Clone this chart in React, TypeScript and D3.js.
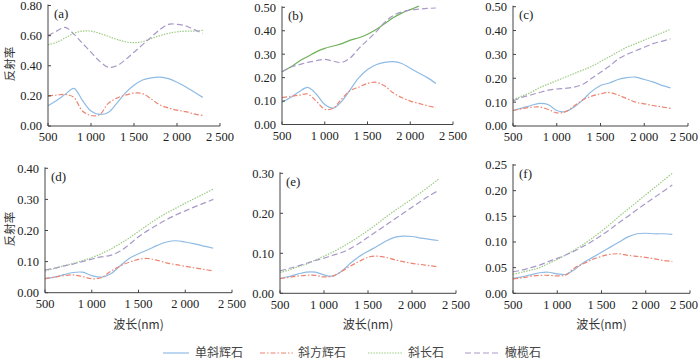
import React from "react";
import * as d3 from "d3";

// wavelength samples (nm)
const wavelengths = [500, 600, 700, 800, 900, 1000, 1100, 1200, 1300, 1400, 1500, 1600, 1700, 1800, 1900, 2000, 2100, 2200, 2300];

const mineralNames = ["单斜辉石", "斜方辉石", "斜长石", "橄榄石"];
const xTicks = [500, 1000, 1500, 2000, 2500];

// (a)
const cpxA = [0.135, 0.17, 0.21, 0.25, 0.17, 0.1, 0.077, 0.09, 0.15, 0.22, 0.27, 0.305, 0.32, 0.325, 0.315, 0.29, 0.26, 0.225, 0.19];
const opxA = [0.2, 0.205, 0.21, 0.19, 0.1, 0.07, 0.075, 0.15, 0.185, 0.205, 0.218, 0.215, 0.18, 0.14, 0.12, 0.105, 0.095, 0.08, 0.07];
const plA = [0.54, 0.555, 0.585, 0.615, 0.63, 0.63, 0.615, 0.595, 0.575, 0.56, 0.553, 0.56, 0.58, 0.6, 0.615, 0.625, 0.63, 0.63, 0.635];
const olA = [0.6, 0.63, 0.655, 0.61, 0.55, 0.49, 0.43, 0.39, 0.4, 0.44, 0.49, 0.54, 0.59, 0.64, 0.675, 0.675, 0.665, 0.64, 0.615];

// (b)
const cpxB = [0.095, 0.115, 0.14, 0.158, 0.13, 0.085, 0.07, 0.1, 0.15, 0.2, 0.235, 0.255, 0.265, 0.268, 0.26, 0.24, 0.22, 0.2, 0.175];
const opxB = [0.115, 0.12, 0.125, 0.13, 0.1, 0.065, 0.07, 0.11, 0.145, 0.16, 0.175, 0.18, 0.165, 0.135, 0.115, 0.1, 0.09, 0.08, 0.072];
const plB = [0.225, 0.245, 0.27, 0.29, 0.31, 0.325, 0.335, 0.345, 0.36, 0.37, 0.385, 0.405, 0.43, 0.455, 0.475, 0.49, 0.505, null, null];
const olB = [0.225, 0.245, 0.255, 0.265, 0.272, 0.278, 0.27, 0.265, 0.285, 0.325, 0.36, 0.395, 0.435, 0.465, 0.48, 0.488, 0.492, 0.495, 0.497];

// (c)
const cpxC = [0.065, 0.075, 0.085, 0.095, 0.09, 0.065, 0.06, 0.08, 0.11, 0.145, 0.17, 0.18, 0.195, 0.203, 0.205, 0.195, 0.185, 0.17, 0.16];
const opxC = [0.065, 0.072, 0.078, 0.08, 0.07, 0.055, 0.06, 0.085, 0.11, 0.125, 0.135, 0.14, 0.13, 0.115, 0.1, 0.093, 0.086, 0.08, 0.074];
const plC = [0.11, 0.125, 0.14, 0.16, 0.175, 0.19, 0.205, 0.22, 0.235, 0.25, 0.27, 0.29, 0.31, 0.33, 0.345, 0.36, 0.375, 0.39, 0.405];
const olC = [0.105, 0.12, 0.13, 0.14, 0.15, 0.155, 0.158, 0.163, 0.175, 0.2, 0.225, 0.25, 0.28, 0.3, 0.315, 0.33, 0.345, 0.355, 0.365];

// (d)
const cpxD = [0.045, 0.05, 0.058, 0.065, 0.066, 0.055, 0.05, 0.06, 0.085, 0.11, 0.125, 0.138, 0.152, 0.163, 0.167, 0.163, 0.157, 0.15, 0.143];
const opxD = [0.045, 0.05, 0.055, 0.057, 0.052, 0.045, 0.048, 0.068, 0.085, 0.098, 0.107, 0.11, 0.104, 0.096, 0.09, 0.085, 0.08, 0.075, 0.07];
const plD = [0.07, 0.078, 0.086, 0.094, 0.103, 0.113, 0.125, 0.14, 0.157, 0.176, 0.197, 0.218, 0.238, 0.256, 0.272, 0.288, 0.303, 0.318, 0.333];
const olD = [0.073, 0.079, 0.086, 0.092, 0.1, 0.108, 0.115, 0.12, 0.133, 0.155, 0.18, 0.2, 0.218, 0.235, 0.25, 0.263, 0.276, 0.288, 0.3];

// (e)
const cpxE = [0.037, 0.042, 0.048, 0.053, 0.053, 0.046, 0.043, 0.055, 0.075, 0.092, 0.105, 0.117, 0.13, 0.14, 0.143, 0.142, 0.138, 0.135, 0.132];
const opxE = [0.037, 0.04, 0.043, 0.045, 0.045, 0.041, 0.043, 0.055, 0.068, 0.08, 0.09, 0.093, 0.09, 0.084, 0.079, 0.075, 0.072, 0.069, 0.066];
const plE = [0.052, 0.058, 0.066, 0.073, 0.083, 0.093, 0.103, 0.115, 0.128, 0.142, 0.157, 0.173, 0.19, 0.206, 0.221, 0.236, 0.252, 0.268, 0.285];
const olE = [0.056, 0.062, 0.068, 0.075, 0.082, 0.088, 0.095, 0.102, 0.112, 0.125, 0.14, 0.155, 0.17, 0.185, 0.2, 0.215, 0.23, 0.244, 0.257];

// (f)
const cpxF = [0.029, 0.032, 0.036, 0.04, 0.041, 0.038, 0.037, 0.047, 0.06, 0.07, 0.08, 0.09, 0.1, 0.11, 0.116, 0.117, 0.116, 0.116, 0.115];
const opxF = [0.028, 0.03, 0.033, 0.035, 0.035, 0.034, 0.036, 0.05, 0.058, 0.066, 0.072, 0.076, 0.077, 0.074, 0.072, 0.07, 0.067, 0.064, 0.062];
const plF = [0.037, 0.041, 0.045, 0.05, 0.058, 0.066, 0.075, 0.085, 0.096, 0.108, 0.121, 0.135, 0.15, 0.164, 0.178, 0.192, 0.206, 0.22, 0.234];
const olF = [0.042, 0.045, 0.05, 0.055, 0.062, 0.068, 0.075, 0.083, 0.092, 0.102, 0.113, 0.125, 0.138, 0.15, 0.163, 0.175, 0.187, 0.199, 0.211];

const styles = [
  { color: "#8fbbe4", dash: null },
  { color: "#ee8470", dash: "5,2,1.5,2" },
  { color: "#9ccc84", dash: "1.5,1.2" },
  { color: "#a899c8", dash: "6,3" },
];

const panels = [
  { label: "(a)", x0: 48, x1: 220, top: 5.5, bottom: 126, yMax: 0.8, yStep: 0.2, series: [cpxA, opxA, plA, olA], row: 0 },
  { label: "(b)", x0: 282, x1: 453, top: 7.3, bottom: 124.5, yMax: 0.5, yStep: 0.1, series: [cpxB, opxB, plB, olB], row: 0 },
  { label: "(c)", x0: 513, x1: 688, top: 6.7, bottom: 126, yMax: 0.5, yStep: 0.1, series: [cpxC, opxC, plC, olC], row: 0 },
  { label: "(d)", x0: 45, x1: 232, top: 168.3, bottom: 292.7, yMax: 0.4, yStep: 0.1, series: [cpxD, opxD, plD, olD], row: 1 },
  { label: "(e)", x0: 280, x1: 456, top: 173.3, bottom: 293.3, yMax: 0.3, yStep: 0.1, series: [cpxE, opxE, plE, olE], row: 1 },
  { label: "(f)", x0: 513, x1: 690, top: 165, bottom: 293.3, yMax: 0.25, yStep: 0.05, series: [cpxF, opxF, plF, olF], row: 1 },
];

const numFont = "'Liberation Serif', 'Times New Roman', serif";
const cjkFont = "'Noto Sans CJK SC', sans-serif";
const axisColor = "#444";

const fmtX = (n: number) =>
  n >= 1000 ? `${Math.floor(n / 1000)} ${String(n % 1000).padStart(3, "0")}` : String(n);

const Panel = ({ p }: { p: any }) => {
  const x = d3.scaleLinear().domain([500, 2500]).range([p.x0, p.x1]);
  const y = d3.scaleLinear().domain([0, p.yMax]).range([p.bottom, p.top]);
  const yTicks = d3.range(0, p.yMax + p.yStep / 2, p.yStep);
  const line = d3
    .line<any>()
    .defined((d) => d[1] != null)
    .x((d) => x(d[0]))
    .y((d) => y(d[1]))
    .curve(d3.curveCatmullRom);

  return (
    <g>
      {p.series.map((vals: (number | null)[], i: number) => (
        <path
          key={i}
          d={line(wavelengths.map((w, j) => [w, vals[j]])) || ""}
          fill="none"
          stroke={i === 2 && p.label === "(b)" ? "#6fb158" : styles[i].color}
          strokeWidth={1.2}
          strokeDasharray={i === 2 && p.label === "(b)" ? undefined : styles[i].dash || undefined}
        />
      ))}
      <line x1={p.x0} x2={p.x0} y1={p.top - 1} y2={p.bottom} stroke={axisColor} strokeWidth={1} />
      <line x1={p.x0} x2={p.x1} y1={p.bottom} y2={p.bottom} stroke={axisColor} strokeWidth={1} />
      {yTicks.map((t) => (
        <g key={t}>
          <line x1={p.x0} x2={p.x0 + 3} y1={y(t)} y2={y(t)} stroke={axisColor} />
          <text x={p.x0 - 6} y={y(t)} dy="0.35em" textAnchor="end" fontFamily={numFont} fontSize={12.5} fill="#222">
            {d3.format(".2f")(t)}
          </text>
        </g>
      ))}
      {xTicks.map((t) => {
        // keep the last label inside the 700px frame
        const tooFar = x(t) + 14 > 698;
        return (
          <g key={t}>
            <line x1={x(t)} x2={x(t)} y1={p.bottom} y2={p.bottom - 3} stroke={axisColor} />
            <text
              x={tooFar ? 698 : x(t)}
              y={p.bottom + 11}
              dy="0.35em"
              textAnchor={tooFar ? "end" : "middle"}
              fontFamily={numFont}
              fontSize={12.5}
              fill="#222"
            >
              {fmtX(t)}
            </text>
          </g>
        );
      })}
      <text x={p.x0 + 6} y={p.top + 8} dy="0.35em" fontFamily={numFont} fontSize={13} fill="#222">
        {p.label}
      </text>
    </g>
  );
};

const legendItems = [
  { x1: 163, x2: 189, tx: 195 },
  { x1: 260, x2: 293, tx: 298 },
  { x1: 368, x2: 402, tx: 408 },
  { x1: 465, x2: 500, tx: 505 },
];

export default function App() {
  return (
    <svg width={700} height={359} style={{ position: "absolute", left: 0, top: 0, background: "#fff" }}>
      {panels.map((p) => (
        <Panel key={p.label} p={p} />
      ))}
      <text transform="translate(10,64) rotate(-90)" textAnchor="middle" dy="0.35em" fontFamily={cjkFont} fontSize={11.5} fill="#333">
        反射率
      </text>
      <text transform="translate(10,229) rotate(-90)" textAnchor="middle" dy="0.35em" fontFamily={cjkFont} fontSize={11.5} fill="#333">
        反射率
      </text>
      {panels
        .filter((p) => p.row === 1)
        .map((p) => (
          <text key={p.label} x={(p.x0 + p.x1) / 2} y={325} dy="0.35em" textAnchor="middle" fontFamily={cjkFont} fontSize={12} fill="#333">
            波长(nm)
          </text>
        ))}
      {legendItems.map((l, i) => (
        <g key={i}>
          <line x1={l.x1} x2={l.x2} y1={353} y2={353} stroke={styles[i].color} strokeWidth={1.2} strokeDasharray={styles[i].dash || undefined} />
          <text x={l.tx} y={353} dy="0.35em" fontFamily={cjkFont} fontSize={12} fill="#444">
            {mineralNames[i]}
          </text>
        </g>
      ))}
    </svg>
  );
}
